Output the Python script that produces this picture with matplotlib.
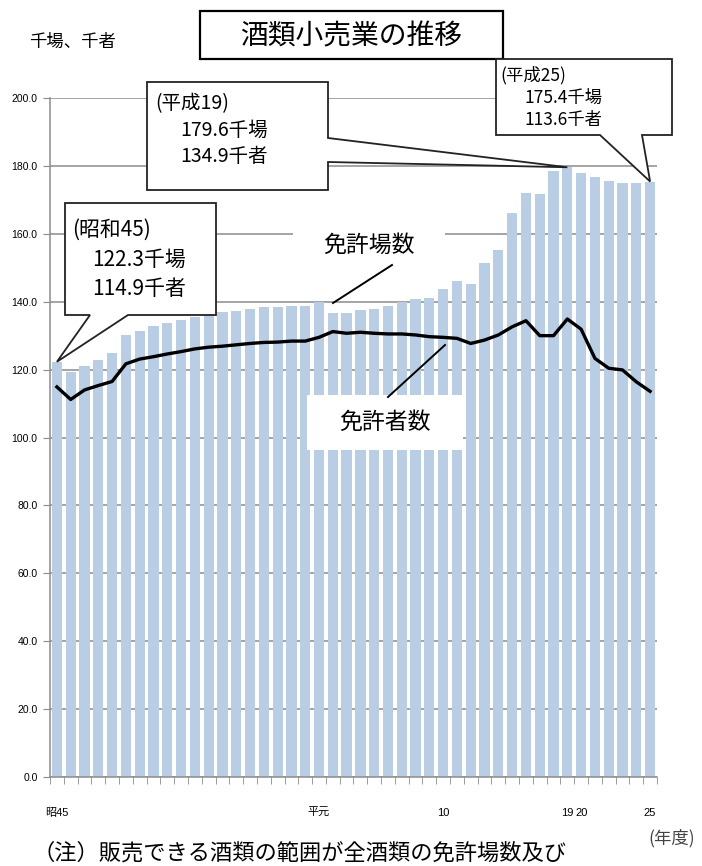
# -*- coding: utf-8 -*-

import matplotlib
matplotlib.use('Agg')
import matplotlib.pyplot as plt
from matplotlib.patches import Polygon, Rectangle
from matplotlib.lines import Line2D


# 年度 (昭和45 - 平成25)
Years = list(range(1970, 2014))

# 免許場数 (千場)
Shops = [122.3, 119.2, 121.1, 122.8, 124.8, 130.2, 131.5, 132.8, 133.8, 134.7,
         135.6, 136.3, 137.0, 137.4, 137.8, 138.3, 138.4, 138.7, 138.7, 139.8,
         136.6, 136.6, 137.5, 137.8, 138.8, 139.8, 140.7, 141.2, 143.7, 146.1,
         145.2, 151.5, 155.2, 166.2, 172.1, 171.6, 178.5, 179.6, 178.0, 176.7,
         175.6, 175.0, 175.0, 175.4]

# 免許者数 (千者)
Persons = [114.9, 111.2, 114.0, 115.3, 116.5, 121.7, 123.1, 123.8, 124.6, 125.3,
           126.1, 126.6, 126.9, 127.3, 127.7, 128.0, 128.1, 128.4, 128.4, 129.5,
           131.2, 130.7, 131.0, 130.7, 130.5, 130.5, 130.2, 129.7, 129.5, 129.2,
           127.7, 128.7, 130.2, 132.6, 134.4, 130.0, 130.0, 134.9, 131.9, 123.3,
           120.4, 119.9, 116.4, 113.6]

# X Tick Labels
TickPos = [0, 19, 28, 37, 38, 43]
TickLabel = ['昭45', '平元', '10', '19', '20', '25']


W, H = 702, 866
JP = ['Noto Sans CJK JP', 'DejaVu Sans']
NUM = ['Liberation Sans', 'Noto Sans CJK JP']

plt.rcParams['font.family'] = JP

fig = plt.figure(figsize=(W / 100, H / 100), dpi=100)
ax = fig.add_axes([50 / W, (H - 777) / H, 607 / W, 679 / H])

x = list(range(len(Years)))
ax.bar(x, Shops, width=0.74, color='#B9CDE5', zorder=2)
ax.plot(x, Persons, color='black', lw=2.4, zorder=3, solid_joinstyle='round')

ax.set_xlim(-0.5, len(Years) - 0.5)
ax.set_ylim(0, 200)
ax.set_yticks(range(0, 201, 20))
ax.set_yticklabels(['{:.1f}'.format(v) for v in range(0, 201, 20)],
                   family=NUM, fontsize=7.5)
ax.yaxis.grid(True, color='#8c8c8c', lw=1.1, zorder=1)
ax.set_axisbelow(True)

ax.set_xticks(TickPos)
ax.set_xticklabels(TickLabel, family=NUM, fontsize=8)
ax.set_xticks([i - 0.5 for i in range(len(Years) + 1)], minor=True)
ax.tick_params(axis='x', which='major', length=0, pad=22)
ax.tick_params(axis='x', which='minor', length=5, color='#8c8c8c')
ax.tick_params(axis='y', length=5, color='#8c8c8c', pad=4)

for s in ['top', 'right']:
    ax.spines[s].set_visible(False)
for s in ['left', 'bottom']:
    ax.spines[s].set_color('#8c8c8c')
    ax.spines[s].set_linewidth(1.1)


# --- helpers in pixel coords (top-left origin) ---
def fx(px, py):
    return (px / W, 1 - py / H)


def data_px(i, v):
    d = ax.transData.transform((i, v))
    return (d[0], H - d[1])


def callout(verts):
    fig.add_artist(Polygon([fx(*v) for v in verts], closed=True,
                           transform=fig.transFigure, facecolor='white',
                           edgecolor='#222222', lw=1.3, zorder=5))


def ftext(px, py, s, **kw):
    fig.text(px / W, 1 - py / H, s, zorder=6, **kw)


def wbox(x0, y0, x1, y1):
    fig.add_artist(Rectangle(fx(x0, y1), (x1 - x0) / W, (y1 - y0) / H,
                             transform=fig.transFigure, facecolor='white',
                             edgecolor='none', zorder=4))


def fline(p0, p1):
    fig.add_artist(Line2D([fx(*p0)[0], fx(*p1)[0]], [fx(*p0)[1], fx(*p1)[1]],
                          transform=fig.transFigure, color='black', lw=1.4, zorder=6))


# Title
fig.add_artist(Rectangle(fx(200, 59), 303 / W, 48 / H, transform=fig.transFigure,
                         facecolor='white', edgecolor='black', lw=1.6, zorder=5))
ftext(351, 36, '酒類小売業の推移', fontsize=20, ha='center', va='center')
ftext(29, 42, '千場、千者', fontsize=12.5, ha='left', va='center')

# Callout 昭和45
t = data_px(0, Shops[0])
callout([(65, 203), (216, 203), (216, 315), (128, 315), t, (90, 315), (65, 315)])
ftext(72, 230, '(昭和45)', fontsize=15, va='center')
ftext(92, 260, '122.3千場', fontsize=15, va='center')
ftext(92, 289, '114.9千者', fontsize=15, va='center')

# Callout 平成19
t = data_px(37, Shops[37])
callout([(147, 82), (328, 82), (328, 138), t, (328, 162), (328, 190), (147, 190)])
ftext(155, 104, '(平成19)', fontsize=14, va='center')
ftext(180, 130, '179.6千場', fontsize=14, va='center')
ftext(180, 156, '134.9千者', fontsize=14, va='center')

# Callout 平成25
t = data_px(43, Shops[43])
callout([(496, 59), (672, 59), (672, 135), (642, 135), t, (600, 135), (496, 135)])
ftext(500, 75, '(平成25)', fontsize=12.5, va='center')
ftext(524, 98, '175.4千場', fontsize=12.5, va='center')
ftext(524, 120, '113.6千者', fontsize=12.5, va='center')

# 免許場数 label
wbox(293, 222, 445, 268)
ftext(369, 245, '免許場数', fontsize=16.5, ha='center', va='center')
fline((333, 303), (392, 265))

# 免許者数 label
wbox(307, 395, 463, 450)
ftext(385, 422, '免許者数', fontsize=16.5, ha='center', va='center')
fline((388, 397), (445, 345))

# footer
ftext(672, 838, '(年度)', fontsize=12.5, ha='center', va='center', color='#444444')
ftext(33, 865, '（注）販売できる酒類の範囲が全酒類の免許場数及び', fontsize=16, ha='left', va='bottom')

fig.savefig('out.png', dpi=100)
